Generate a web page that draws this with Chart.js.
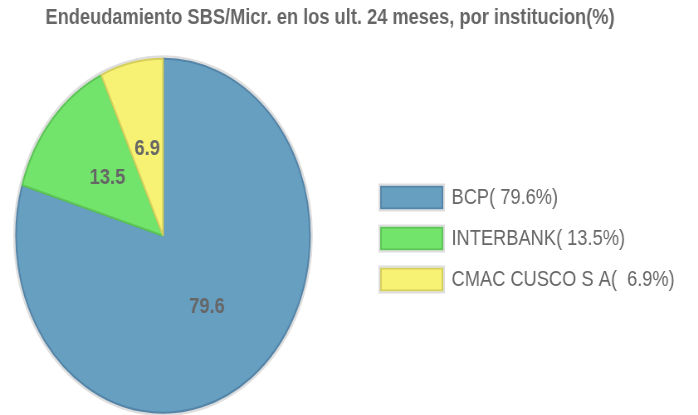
<!DOCTYPE html>
<html>
<head>
<meta charset="utf-8">
<script src="https://cdn.jsdelivr.net/npm/chart.js@4.4.1/dist/chart.umd.min.js"></script>
<style>
    html, body { margin: 0; padding: 0; background: #fff; overflow: hidden; }
    /* the original is a squeezed picture: draw wide, then squeeze horizontally */
    #wrap {
        position: absolute; left: 0; top: 0;
        width: 841px; height: 415px;
        transform: scaleX(0.83); transform-origin: 0 0;
    }
</style>
</head>
<body>
<div id="wrap"><canvas id="chart"></canvas></div>
<script>
const institutions = ['BCP', 'INTERBANK', 'CMAC CUSCO S A'];
const shares = [79.6, 13.5, 6.9];
const sliceColors = ['#679fc1', '#72e36b', '#f7f273'];
const sliceBorders = ['#5484a8', '#5cc456', '#d6cf5c'];
const chartTitle = 'Endeudamiento SBS/Micr. en los ult. 24 meses, por institucion(%)';

const TEXT_GREY = '#666666';
const FONT = '"Liberation Sans", Arial, sans-serif';

Chart.defaults.font.family = FONT;

const pieExtras = {
    id: 'pieExtras',
    afterLayout(chart) {
        // title is centred a bit right of the canvas middle,
        // legend sits a little away from the pie
        const title = chart.titleBlock,
            lg = chart.legend;
        title.left += 23.2;
        title.right += 23.2;
        lg.left += 65.6;
        lg.right = chart.width;
        lg.top += 31;
        lg.bottom += 31;
    },
    beforeDatasetsDraw(chart) {
        const arc = chart.getDatasetMeta(0).data[0];
        if (!arc) {
            return;
        }
        const ctx = chart.ctx;
        ctx.save();
        ctx.beginPath();
        ctx.arc(arc.x, arc.y, arc.outerRadius + 2, 0, Math.PI * 2);
        ctx.strokeStyle = '#dedede';
        ctx.lineWidth = 3;
        ctx.stroke();
        ctx.restore();
    },
    afterDatasetsDraw(chart) {
        const ctx = chart.ctx;
        ctx.save();
        ctx.font = 'bold 22px ' + FONT;
        ctx.fillStyle = TEXT_GREY;
        ctx.textAlign = 'center';
        ctx.textBaseline = 'middle';
        chart.getDatasetMeta(0).data.forEach((arc, i) => {
            const p = arc.tooltipPosition();
            ctx.fillText(shares[i].toFixed(1), p.x, p.y);
        });
        ctx.restore();
    },
    afterDraw(chart) {
        const lg = chart.legend,
            labels = lg.options.labels,
            ctx = chart.ctx;
        ctx.save();
        ctx.strokeStyle = '#dddddd';
        ctx.lineWidth = 2;
        for (const hb of lg.legendHitBoxes) {
            ctx.strokeRect(hb.left - 2, hb.top - 2, labels.boxWidth + 4, labels.boxHeight + 4);
        }
        ctx.restore();
    }
};

new Chart(document.getElementById('chart'), {
    type: 'pie',
    data: {
        labels: institutions,
        datasets: [{
            data: shares,
            backgroundColor: sliceColors,
            borderColor: sliceBorders,
            borderWidth: 2
        }]
    },
    options: {
        responsive: true,
        maintainAspectRatio: false,
        animation: false,
        events: [],
        layout: {
            padding: {left: 18.4, right: 110.6, top: 0, bottom: 0}
        },
        plugins: {
            title: {
                display: true,
                text: chartTitle,
                color: TEXT_GREY,
                font: {size: 22, weight: 'bold'},
                padding: {top: 5, bottom: 25}
            },
            legend: {
                position: 'right',
                labels: {
                    boxWidth: 74,
                    boxHeight: 22,
                    padding: 19,
                    color: TEXT_GREY,
                    font: {size: 22},
                    generateLabels(chart) {
                        const items = Chart.overrides.pie.plugins.legend.labels.generateLabels(chart);
                        items.forEach((item, i) => {
                            item.text = `${institutions[i]}(${shares[i].toFixed(1).padStart(5)}%)`;
                        });
                        return items;
                    }
                }
            },
            tooltip: {enabled: false}
        }
    },
    plugins: [pieExtras]
});
</script>
</body>
</html>
